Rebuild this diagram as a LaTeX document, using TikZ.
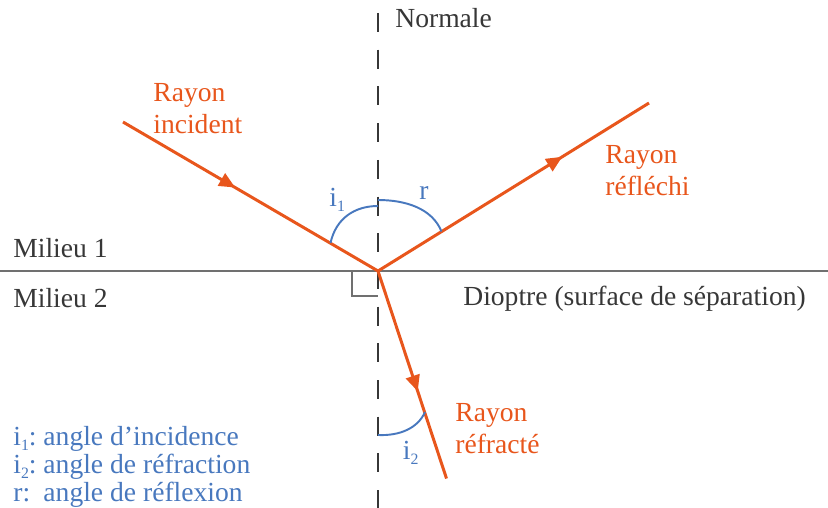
\documentclass[tikz,border=0pt]{standalone}
\usepackage{fontspec}
\setmainfont{Liberation Serif}
\usepackage{tikz}
\usetikzlibrary{arrows.meta, decorations.markings}
\usepackage{xcolor}
\definecolor{rayorange}{RGB}{232,86,28}
\definecolor{anglblue}{RGB}{72,120,190}
\definecolor{txtgray}{RGB}{55,55,55}
\definecolor{linegray}{RGB}{112,112,112}
\newcommand{\angsub}[1]{\raisebox{-0.4ex}{\fontsize{9}{10}\selectfont #1}}

\begin{document}
\begin{tikzpicture}[
    ray/.style={rayorange, line width=1.7pt},
    rayarrow/.style={postaction={decorate}, decoration={markings,
        mark=at position #1 with {\arrow{Triangle[length=0.32cm, width=0.28cm]}}}},
    angarc/.style={draw=anglblue, line width=1.1pt},
    txt/.style={font=\fontsize{15.7}{18.2}\selectfont, inner sep=0pt},
    raylbl/.style={txt, text=rayorange, align=left, anchor=north west},
    anglbl/.style={txt, text=anglblue, anchor=base west},
    medlbl/.style={txt, text=txtgray, anchor=base west},
]
  \useasboundingbox (0,0) rectangle (16.56,-10.16);

  % ---- surface and normal ----
  \coordinate (O)      at (7.56,-5.42);
  \coordinate (nTop)   at (7.56,-0.26);
  \coordinate (nBot)   at (7.56,-10.16);
  \coordinate (sLeft)  at (0,-5.42);
  \coordinate (sRight) at (16.56,-5.42);
  \draw[linegray, line width=1.5pt] (sLeft) -- (sRight);
  \draw[txtgray, line width=1.2pt, dash pattern=on 0.38cm off 0.354cm]
    (nTop) -- (nBot);
  \draw[linegray, line width=0.8pt]
    (O) ++(-0.52,0) -- ++(0,-0.5) -- ++(0.52,0);

  % ---- rays ----
  \coordinate (inc)  at (2.46,-2.44);
  \coordinate (refl) at (12.98,-2.06);
  \coordinate (refr) at (8.93,-9.57);
  \draw[ray, rayarrow=0.44] (inc) -- (O);
  \draw[ray, rayarrow=0.68] (O) -- (refl);
  \draw[ray, rayarrow=0.58] (O) -- (refr);

  % ---- angles ----
  \draw[angarc] (6.61,-4.86) .. controls (6.72,-4.36) and (7.10,-4.12) .. (7.56,-4.12);
  \draw[angarc] (7.56,-4.00) .. controls (8.10,-4.00) and (8.64,-4.16) .. (8.83,-4.63);
  \draw[angarc] (7.56,-8.70) .. controls (8.00,-8.72) and (8.36,-8.56) .. (8.50,-8.24);

  % ---- labels ----
  \node[medlbl] (normale) at (7.90,-0.56) {Normale};
  \node[medlbl] (mil1)    at (0.26,-5.14) {Milieu 1};
  \node[medlbl] (mil2)    at (0.26,-6.14) {Milieu 2};
  \node[medlbl] (dioptre) at (9.26,-6.10) {Dioptre (surface de séparation)};

  \node[raylbl] (lblInc)  at (3.06,-1.66)  {Rayon\\incident};
  \node[raylbl] (lblRefl) at (12.10,-2.90) {Rayon\\réfléchi};
  \node[raylbl] (lblRefr) at (9.10,-8.06)  {Rayon\\réfracté};

  \node[anglbl] (i1) at (6.58,-4.13) {i\angsub{1}};
  \node[anglbl] (r)  at (8.38,-3.99) {r};
  \node[anglbl] (i2) at (8.05,-9.18) {i\angsub{2}};

  % ---- legend ----
  \node[anglbl, font=\fontsize{15.7}{16.2}\selectfont] (legend) at (0.26,-8.90) {%
    \begin{tabular}[t]{@{}l@{\ }l@{}}
      i\angsub{1}: & angle d’incidence\\
      i\angsub{2}: & angle de réfraction\\
      r: & angle de réflexion
    \end{tabular}};
\end{tikzpicture}
\end{document}
